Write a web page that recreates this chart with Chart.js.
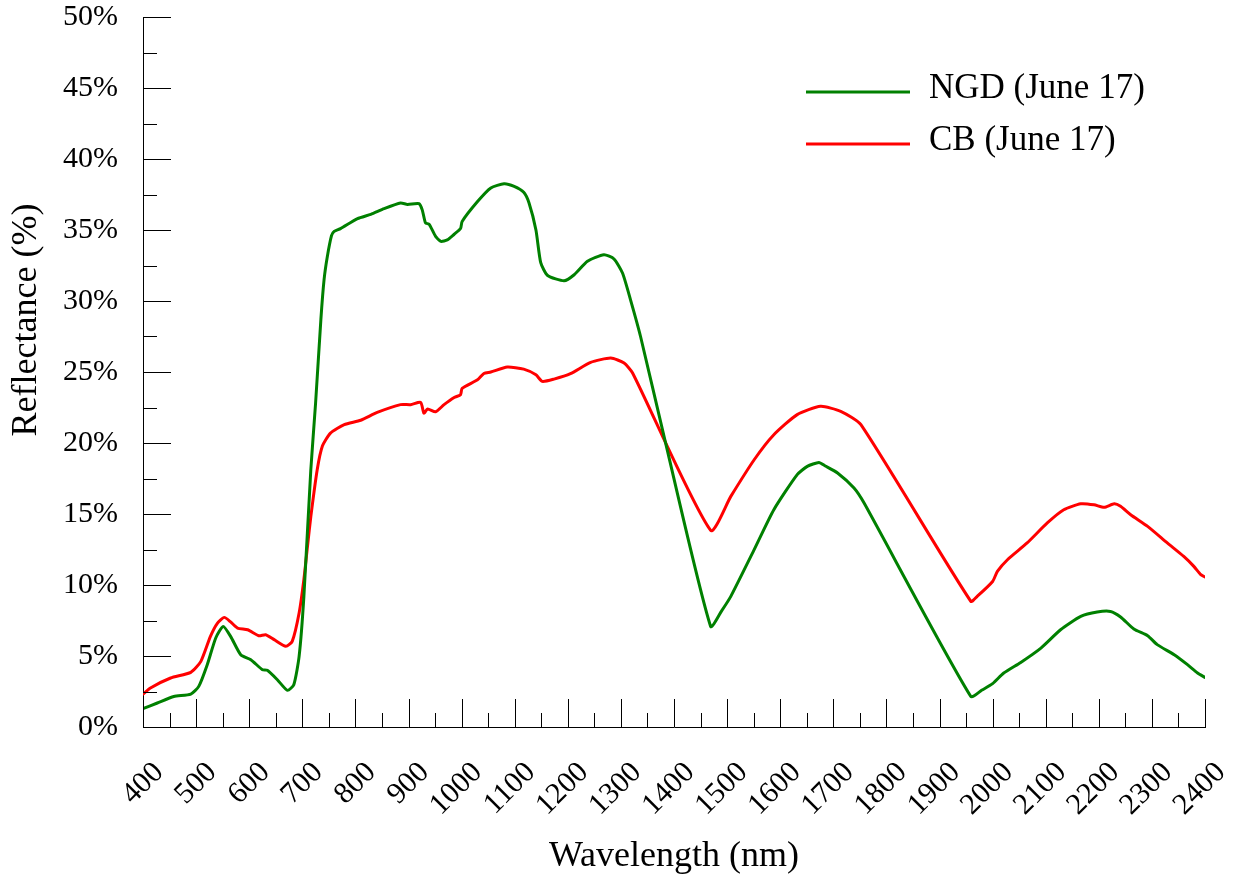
<!DOCTYPE html>
<html>
<head>
<meta charset="utf-8">
<script src="https://cdn.jsdelivr.net/npm/chart.js@4"></script>
<style>
  html, body { margin: 0; padding: 0; background: #fff; }
  #wrap { width: 1242px; height: 883px; }
</style>
</head>
<body>
<div id="wrap"><canvas id="chart" width="1242" height="883"></canvas></div>
<script>
// ── Data ──────────────────────────────────────────────────────
const ngdWavelength = [
  400, 427, 458, 490, 505, 521, 537, 551, 565, 584, 603, 625, 634, 653, 672, 684, 694, 703,
  716, 725, 735, 741, 747, 755, 760, 772, 804, 829, 854, 885, 898, 920, 926, 932, 939, 951,
  961, 973, 986, 998, 1001, 1030, 1055, 1080, 1099, 1117, 1127, 1140, 1149, 1162, 1193, 1212,
  1237, 1268, 1287, 1303, 1318, 1337, 1381, 1469, 1490, 1507, 1551, 1588, 1632, 1651, 1673,
  1684, 1708, 1739, 1758, 1959, 1980, 2000, 2021, 2053, 2091, 2128, 2166, 2197, 2222, 2241,
  2266, 2292, 2310, 2342, 2367, 2386, 2400
];
const ngdReflectance = [
  1.29, 1.69, 2.15, 2.32, 2.86, 4.39, 6.27, 7.08, 6.38, 5.09, 4.74, 4.03, 3.99, 3.33, 2.58, 2.98, 4.97, 9.2,
  18.1, 22.8, 28.7, 31.5, 33.1, 34.6, 34.9, 35.1, 35.8, 36.1, 36.5, 36.9, 36.8, 36.85, 36.4, 35.5, 35.4, 34.55,
  34.2, 34.3, 34.7, 35.1, 35.6, 37.0, 37.96, 38.26, 38.07, 37.65, 36.9, 35.0, 32.7, 31.8, 31.43, 31.85,
  32.8, 33.26, 32.96, 31.97, 30.1, 27.5, 20.5, 7.08, 8.2, 9.2, 12.49, 15.3, 17.77, 18.35, 18.63,
  18.4, 17.89, 16.83, 15.77, 2.15, 2.6, 3.05, 3.8, 4.55, 5.56, 6.85, 7.79, 8.1, 8.14, 7.75,
  6.9, 6.43, 5.8, 5.09, 4.39, 3.8, 3.49
];

const cbWavelength = [
  400, 414, 452, 490, 509, 527, 540, 553, 565, 578, 597, 618, 631, 647, 669, 681, 694, 703,
  710, 716, 728, 738, 753, 779, 810, 841, 885, 904, 923, 929, 936, 951, 967, 986, 998, 1001,
  1030, 1042, 1055, 1086, 1117, 1140, 1152, 1174, 1205, 1243, 1281, 1306, 1322, 1469, 1507,
  1551, 1588, 1632, 1676, 1714, 1752, 1959, 1971, 2000, 2009, 2028, 2065, 2103, 2134, 2166,
  2191, 2210, 2229, 2241, 2260, 2292, 2329, 2360, 2379, 2392, 2400
];
const cbReflectance = [
  2.32, 2.75, 3.45, 3.85, 4.62, 6.38, 7.3, 7.72, 7.4, 6.97, 6.85, 6.43, 6.5, 6.15, 5.68, 6.03, 8.03, 10.4,
  12.8, 14.8, 18.1, 19.8, 20.7, 21.3, 21.6, 22.15, 22.7, 22.7, 22.86, 22.1, 22.4, 22.2, 22.7, 23.2, 23.4, 23.85,
  24.45, 24.9, 25.0, 25.35, 25.2, 24.8, 24.34, 24.5, 24.88, 25.68, 25.98, 25.63, 24.93, 13.85, 16.24,
  18.82, 20.58, 22.0, 22.58, 22.23, 21.29, 8.85, 9.2, 10.25, 10.96, 11.78, 12.96, 14.37, 15.3, 15.72,
  15.65, 15.47, 15.72, 15.54, 14.95, 14.13, 12.96, 12.01, 11.31, 10.73, 10.56
];

const SERIES_LABELS = ["NGD (June 17)", "CB (June 17)"];
const SERIES_COLORS = ["#008000", "#ff0000"];
const X_MIN = 400, X_MAX = 2400, X_STEP = 100;
const Y_MIN = 0, Y_MAX = 50, Y_STEP = 5;

const FONT = "'Liberation Serif', 'Times New Roman', serif";

function toPoints(xs, ys) { return xs.map((x, i) => ({ x, y: ys[i] })); }

// ── Inward tick marks (major + minor) ────────────────────────
const innerTicks = {
  id: "innerTicks",
  afterDraw(chart) {
    const { ctx, chartArea: a, scales: { x, y } } = chart;
    ctx.save();
    ctx.strokeStyle = "#000";
    ctx.lineWidth = 1;
    ctx.beginPath();
    for (let w = X_MIN; w <= X_MAX; w += X_STEP / 2) {
      const px = Math.round(x.getPixelForValue(w)) + 0.5;
      const len = (w % X_STEP === 0) ? 28 : 14;
      ctx.moveTo(px, a.bottom);
      ctx.lineTo(px, a.bottom - len);
    }
    for (let v = Y_MIN; v <= Y_MAX; v += Y_STEP / 2) {
      const py = Math.round(y.getPixelForValue(v)) + 0.5;
      const len = (v % Y_STEP === 0) ? 28 : 14;
      ctx.moveTo(a.left, py);
      ctx.lineTo(a.left + len, py);
    }
    ctx.stroke();
    ctx.restore();
  }
};

// ── Legend inside the plot + y title ─────────────────────────
const insideLegend = {
  id: "insideLegend",
  afterDraw(chart) {
    const { ctx } = chart;
    ctx.save();
    ctx.font = "35px " + FONT;
    ctx.textBaseline = "middle";
    ctx.fillStyle = "#000";
    chart.data.datasets.forEach((ds, i) => {
      const yy = 92 + i * 52;
      ctx.strokeStyle = ds.borderColor;
      ctx.lineWidth = 3;
      ctx.beginPath();
      ctx.moveTo(806, yy);
      ctx.lineTo(910, yy);
      ctx.stroke();
      ctx.fillText(ds.label, 929, yy - 3);
    });
    // y axis title
    ctx.font = "36px " + FONT;
    ctx.translate(27, 320);
    ctx.rotate(-Math.PI / 2);
    ctx.textAlign = "center";
    ctx.fillText("Reflectance (%)", 0, 0);
    ctx.restore();
  }
};

new Chart(document.getElementById("chart"), {
  type: "line",
  data: {
    datasets: [
      { label: SERIES_LABELS[0], data: toPoints(ngdWavelength, ngdReflectance), borderColor: SERIES_COLORS[0] },
      { label: SERIES_LABELS[1], data: toPoints(cbWavelength, cbReflectance), borderColor: SERIES_COLORS[1] },
    ]
  },
  options: {
    responsive: false,
    animation: false,
    layout: { padding: { top: 17, right: 37, left: 0, bottom: 0 } },
    elements: {
      line: { borderWidth: 3, tension: 0.2, fill: false, borderCapStyle: "round", borderJoinStyle: "round" },
      point: { radius: 0 }
    },
    plugins: { legend: { display: false }, tooltip: { enabled: false } },
    scales: {
      x: {
        type: "linear", min: X_MIN, max: X_MAX,
        afterFit(s) { s.height = 156; s.paddingLeft = 0; s.paddingRight = 0; },
        grid: { display: true, drawOnChartArea: false, drawTicks: false },
        border: { display: true, color: "#000", width: 1 },
        ticks: {
          stepSize: X_STEP, autoSkip: false, maxRotation: 45, minRotation: 45,
          padding: 28, labelOffset: 16, color: "#000", font: { family: FONT, size: 30 },
          callback: v => String(v)
        },
        title: {
          display: true, text: "Wavelength (nm)", color: "#000",
          font: { family: FONT, size: 36 }, padding: { top: 0, bottom: 5 }
        }
      },
      y: {
        min: Y_MIN, max: Y_MAX,
        afterFit(s) { s.width = 143; s.paddingTop = 0; s.paddingBottom = 0; },
        grid: { display: true, drawOnChartArea: false, drawTicks: false },
        border: { display: true, color: "#000", width: 1 },
        ticks: {
          stepSize: Y_STEP, padding: 25, color: "#000",
          font: { family: FONT, size: 30 },
          callback: v => v + "%"
        }
      }
    }
  },
  plugins: [innerTicks, insideLegend]
});
</script>
</body>
</html>
